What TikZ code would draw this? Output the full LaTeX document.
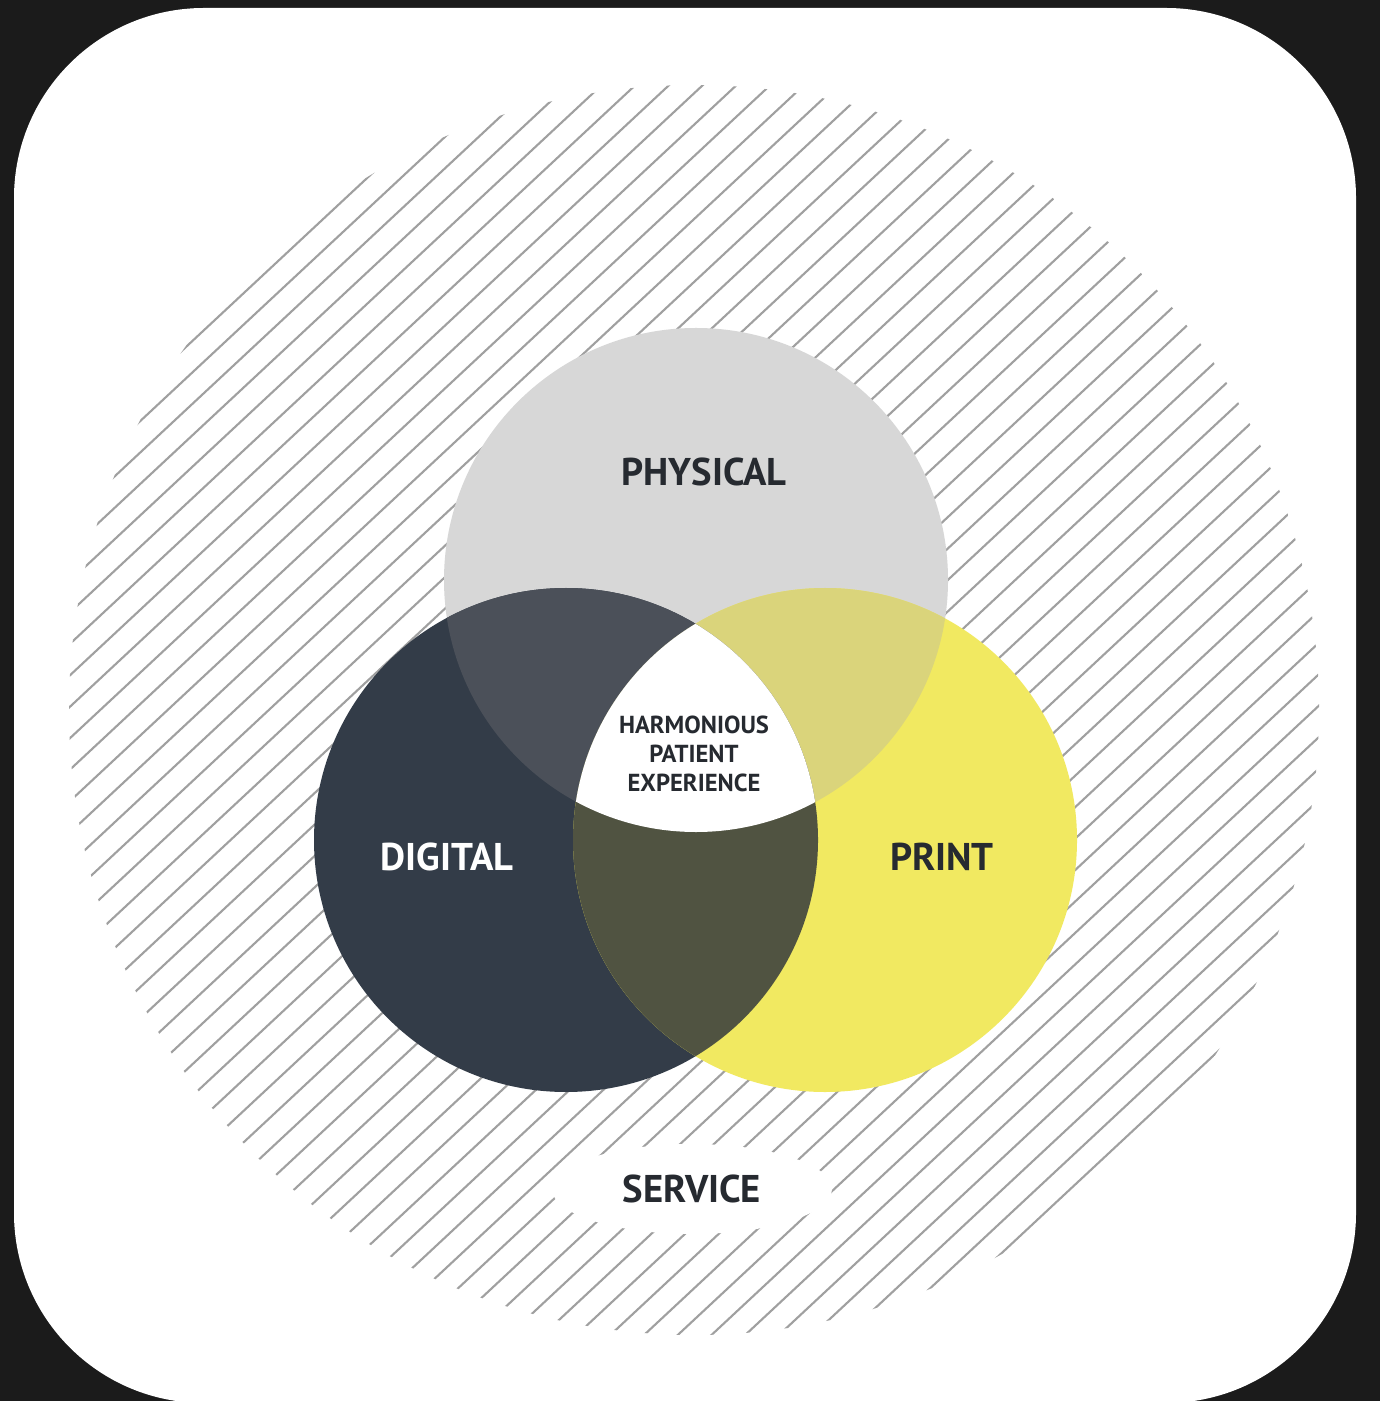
\documentclass[tikz,border=0pt]{standalone}
\usepackage{fontspec}
\setmainfont{PT Sans}
\usetikzlibrary{calc,shapes.geometric}
\definecolor{bgdark}{HTML}{1B1B1B}
\definecolor{physicalgray}{HTML}{D7D7D7}
\definecolor{digitalslate}{HTML}{333C48}
\definecolor{printyellow}{HTML}{F1E961}
\definecolor{physdig}{HTML}{4B5059}
\definecolor{physprint}{HTML}{DAD47B}
\definecolor{digprint}{HTML}{505341}
\definecolor{textdark}{HTML}{262A30}
\definecolor{hatchgray}{HTML}{A0A0A0}
\begin{document}
\begin{tikzpicture}[set node/.style={circle,minimum size=5.04cm,inner sep=0pt,outer sep=0pt},
                    big label/.style={font=\bfseries\fontsize{11}{13}\selectfont,text=textdark},
                    small label/.style={font=\bfseries\fontsize{7}{8.2}\selectfont,text=textdark,align=center},
                    hatch line/.style={draw=hatchgray,line width=0.6pt}
                   ]
  \useasboundingbox (0,0) rectangle (13.80,-14.01);
  \fill[bgdark] (0,0) rectangle (13.80,-14.01);
  \fill[white,rounded corners=1.9cm] (0.14,-0.08) rectangle (13.56,-14.03);

  \coordinate (hub) at (6.94,-7.10);
  \begin{scope}
    \clip (hub) circle (6.25);
    \foreach \t in {-6.30,-6.07,...,6.30}
      \draw[hatch line] ($(hub)+(133:\t)$) ++(223:6.5) -- ++(43:13);
  \end{scope}

  \node[set node,fill=physicalgray] (physical) at (6.96,-5.80) {};
  \node[set node,fill=digitalslate] (digital) at (5.66,-8.40) {};
  \node[set node,fill=printyellow] (print) at (8.25,-8.40) {};

  \begin{scope}
    \clip (physical.center) circle (2.52);
    \fill[physdig] (digital.center) circle (2.52);
    \fill[physprint] (print.center) circle (2.52);
  \end{scope}
  \begin{scope}
    \clip (digital.center) circle (2.52);
    \fill[digprint] (print.center) circle (2.52);
  \end{scope}
  \begin{scope}
    \clip (physical.center) circle (2.52);
    \clip (digital.center) circle (2.52);
    \fill[white] (print.center) circle (2.52);
  \end{scope}

  \node[big label] (physical label) at (7.04,-4.72) {PHYSICAL};
  \node[big label,text=white] (digital label) at (4.47,-8.57) {DIGITAL};
  \node[big label] (print label) at (9.42,-8.57) {PRINT};
  \node[small label] (core label) at (6.94,-7.54) {HARMONIOUS\\PATIENT\\EXPERIENCE};
  \node[big label,ellipse,fill=white,minimum width=2.8cm,minimum height=0.9cm] (service) at (6.92,-11.89) {SERVICE};
\end{tikzpicture}
\end{document}
